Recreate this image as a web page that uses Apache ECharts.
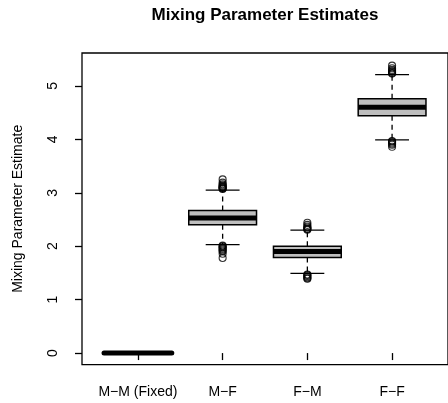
<!DOCTYPE html>
<html>
<head>
<meta charset="utf-8">
<script src="https://cdn.jsdelivr.net/npm/echarts@6/dist/echarts.min.js"></script>
<style>html,body{margin:0;padding:0;background:#fff}#c{width:448px;height:403px}</style>
</head>
<body>
<div id="c"></div>
<script>
const categories = ['M\u2212M (Fixed)', 'M\u2212F', 'F\u2212M', 'F\u2212F'];
const lowerWhisker = [0, 2.03, 1.49, 3.99];
const q1 = [0, 2.40, 1.79, 4.44];
const median = [0, 2.53, 1.90, 4.60];
const q3 = [0, 2.67, 2.00, 4.76];
const upperWhisker = [0, 3.05, 2.30, 5.21];
const outliersMF = [3.07, 3.08, 3.09, 3.10, 3.11, 3.12, 3.14, 3.16, 3.19, 3.25, 2.01, 2.00, 1.98, 1.96, 1.94, 1.92, 1.90, 1.86, 1.78];
const outliersFM = [2.31, 2.32, 2.33, 2.35, 2.37, 2.40, 2.44, 1.47, 1.46, 1.44, 1.42, 1.40, 1.39];
const outliersFF = [5.23, 5.24, 5.26, 5.28, 5.30, 5.33, 5.38, 3.97, 3.96, 3.94, 3.92, 3.90, 3.86];
const yTicks = [0, 1, 2, 3, 4, 5];

const boxData = categories.map((c, i) => [i + 1, lowerWhisker[i], q1[i], median[i], q3[i], upperWhisker[i]]);
const outlierData = []
  .concat(outliersMF.map(v => [2, v]))
  .concat(outliersFM.map(v => [3, v]))
  .concat(outliersFF.map(v => [4, v]));

const chart = echarts.init(document.getElementById('c'), null, {renderer: 'canvas'});
const FONT = 'Liberation Sans, Arial, Helvetica, sans-serif';

function renderBox(params, api) {
  const x = api.value(0);
  const lw = api.coord([x, api.value(1)]);
  const b1 = api.coord([x, api.value(2)]);
  const md = api.coord([x, api.value(3)]);
  const b3 = api.coord([x, api.value(4)]);
  const uw = api.coord([x, api.value(5)]);
  const bw = api.size([0.8, 0])[0];
  const sw = bw * 0.5;
  const cx = md[0];
  const children = [];
  const flat = api.value(4) - api.value(2) === 0;
  if (!flat) {
    children.push({type: 'line', shape: {x1: cx, y1: b3[1], x2: cx, y2: uw[1]}, style: {stroke: '#000', lineWidth: 1.3, lineDash: [5, 4]}});
    children.push({type: 'line', shape: {x1: cx, y1: b1[1], x2: cx, y2: lw[1]}, style: {stroke: '#000', lineWidth: 1.3, lineDash: [5, 4]}});
    children.push({type: 'line', shape: {x1: cx - sw / 2, y1: uw[1], x2: cx + sw / 2, y2: uw[1]}, style: {stroke: '#000', lineWidth: 1.3}});
    children.push({type: 'line', shape: {x1: cx - sw / 2, y1: lw[1], x2: cx + sw / 2, y2: lw[1]}, style: {stroke: '#000', lineWidth: 1.3}});
    children.push({type: 'rect', shape: {x: cx - bw / 2, y: b3[1], width: bw, height: b1[1] - b3[1]}, style: {fill: '#bebebe', stroke: '#000', lineWidth: 1.5}});
  }
  children.push({type: 'line', shape: {x1: cx - bw / 2, y1: md[1], x2: cx + bw / 2, y2: md[1]}, style: {stroke: '#000', lineWidth: 5, lineCap: flat ? 'round' : 'butt'}});
  return {type: 'group', children: children};
}

chart.setOption({
  animation: false,
  backgroundColor: '#fff',
  title: {
    text: 'Mixing Parameter Estimates',
    left: 265, top: 7, padding: 0, textAlign: 'center',
    textStyle: {fontFamily: FONT, fontWeight: 'bold', fontSize: 17, color: '#000'}
  },
  grid: {left: 82, right: -1, top: 53, bottom: 38.4, show: true, borderColor: '#000', borderWidth: 1.3, backgroundColor: 'transparent'},
  xAxis: {
    type: 'value', min: 0.34, max: 4.66,
    axisLine: {show: false},
    splitLine: {show: false},
    axisTick: {show: true, length: 7, lineStyle: {color: '#000', width: 1.3}, customValues: [1, 2, 3, 4]},
    axisLabel: {customValues: [1, 2, 3, 4], formatter: v => categories[Math.round(v) - 1] || '', margin: 21, fontFamily: FONT, fontSize: 14, color: '#000'}
  },
  yAxis: {
    type: 'value', min: -0.216, max: 5.616,
    name: 'Mixing Parameter Estimate', nameLocation: 'middle', nameRotate: 90, nameGap: 57,
    nameTextStyle: {fontFamily: FONT, fontSize: 14, color: '#000'},
    axisLine: {show: false},
    splitLine: {show: false},
    axisTick: {show: true, length: 7, lineStyle: {color: '#000', width: 1.3}, customValues: yTicks},
    axisLabel: {customValues: yTicks, rotate: 90, margin: 22, fontFamily: FONT, fontSize: 14, color: '#000'}
  },
  series: [
    {type: 'custom', renderItem: renderBox, data: boxData, encode: {x: 0, y: [1, 2, 3, 4, 5]}, z: 2},
    {type: 'scatter', data: outlierData, symbol: 'circle', symbolSize: 7,
     itemStyle: {color: 'rgba(0,0,0,0)', borderColor: '#000', borderWidth: 1.1}, z: 3}
  ]
});
</script>
</body>
</html>
